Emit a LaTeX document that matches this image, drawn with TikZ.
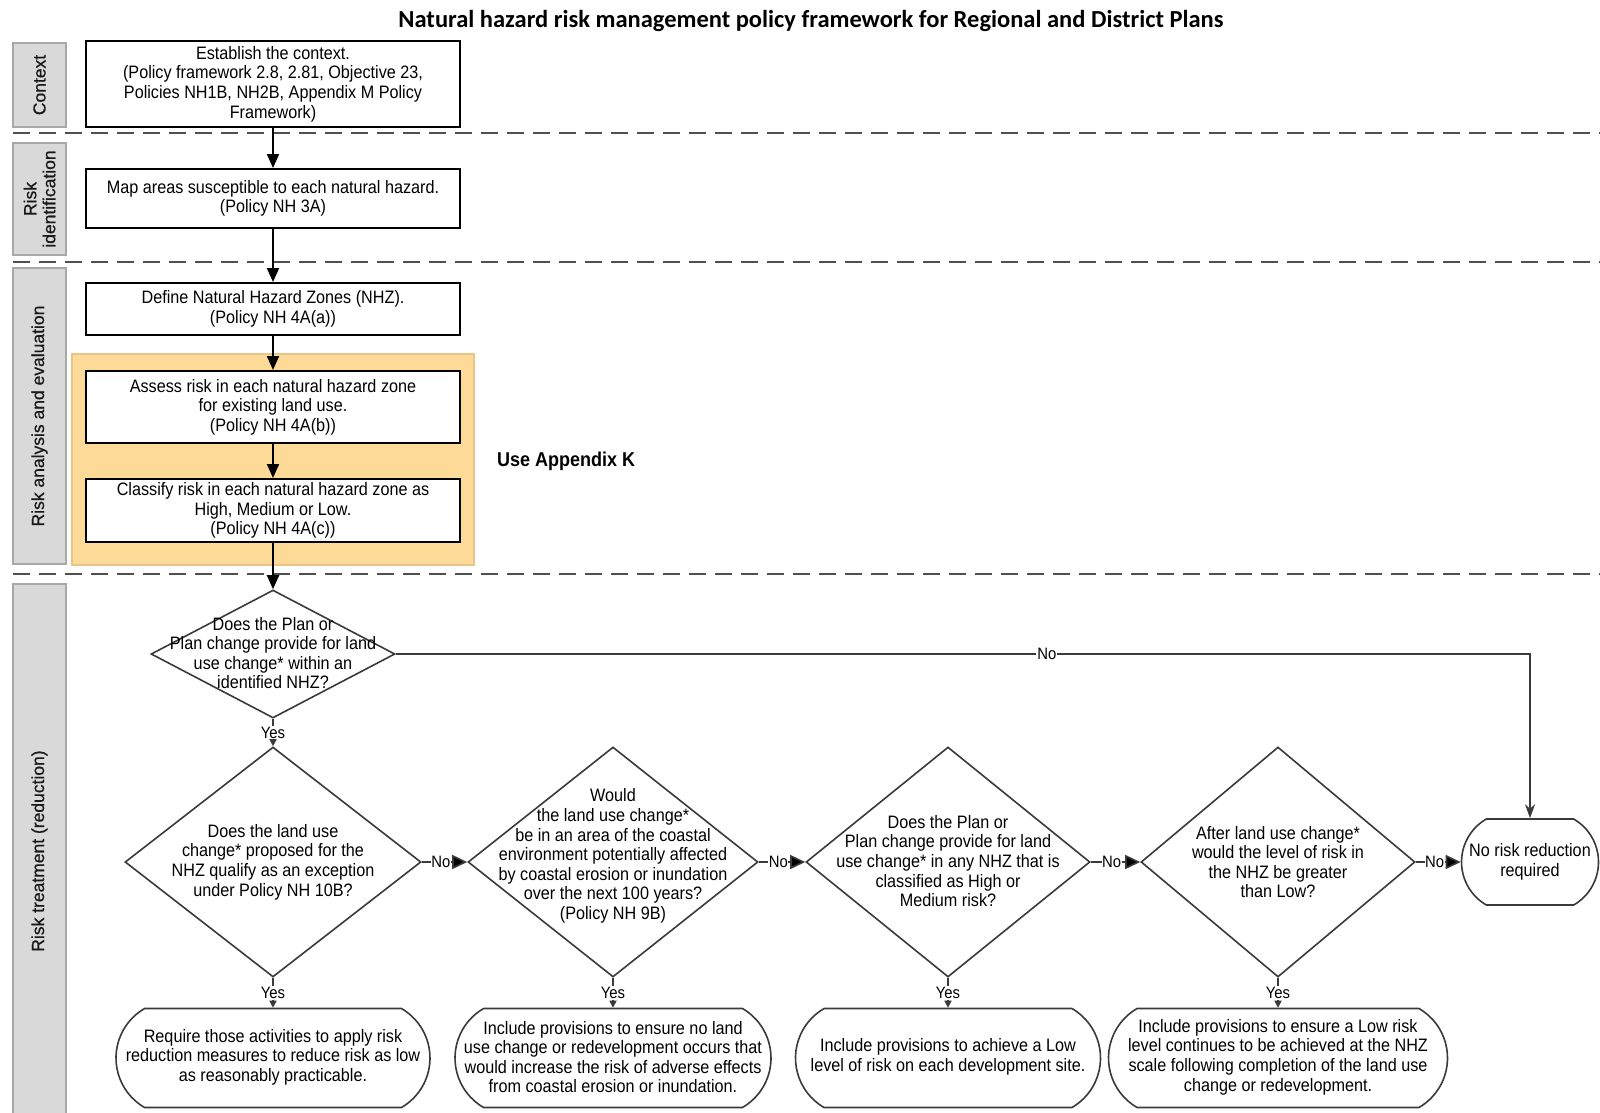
\documentclass[tikz,border=0pt]{standalone}
\usepackage{fontspec}
\setmainfont{Liberation Sans}[FakeStretch=0.9]
\newfontfamily\titlefont{Carlito}
\newfontfamily\lanefont{Liberation Sans}[FakeBold=0.6]
\newfontfamily\boldnarrow{Liberation Sans Bold}[FakeStretch=0.9]
\usetikzlibrary{shapes.geometric,shapes.misc,arrows.meta}
\definecolor{lanefill}{HTML}{D9D9D9}
\definecolor{lanedraw}{HTML}{A8A8A8}
\definecolor{orangefill}{HTML}{FDDA98}
\definecolor{orangedraw}{HTML}{E8C488}
\definecolor{dashgray}{HTML}{505050}
\definecolor{linegray}{HTML}{3A3A3A}
\newcommand{\bodyfs}{\fontsize{18}{19.6}\selectfont}
\newcommand{\smallfs}{\fontsize{16.5}{18}\selectfont}
\begin{document}
\begin{tikzpicture}[x=1pt,y=-1pt,
  lane/.style={draw=lanedraw, line width=2pt, fill=lanefill, rotate=90, minimum height=53, inner sep=0, align=center, font=\lanefont\fontsize{17.5}{19}\selectfont, text=black!90},
  procbox/.style={draw=black, line width=2pt, fill=white, minimum width=374, inner sep=0, align=center, font=\bodyfs},
  dia/.style={diamond, draw=linegray, line width=1.6pt, fill=white, inner sep=0},
  term/.style={rounded rectangle, rounded rectangle arc length=120, draw=linegray, line width=1.6pt, fill=white, inner sep=0, minimum height=99},
  txt/.style={align=center, font=\bodyfs, inner sep=0},
  mainarrow/.style={draw=black, line width=2pt, -{Triangle[length=14pt,width=12pt]}},
  noarrow/.style={draw=linegray, line width=1.6pt, -{Triangle[length=15pt,width=14pt,fill=black]}},
  yesarrow/.style={draw=linegray, line width=1.6pt, -{Triangle[length=7pt,width=7pt]}},
  toparrow/.style={draw=linegray, line width=2pt, -{Stealth[length=14pt,width=10pt]}},
  lbl/.style={fill=white, inner sep=1pt, font=\smallfs},
  sep/.style={draw=dashgray, line width=2.6pt, dash pattern=on 17pt off 9pt}
]
\useasboundingbox[fill=white] (0,0) rectangle (1600,1112);

% title
\node[font=\titlefont\bfseries\fontsize{24.5}{28}\selectfont] (title) at (811,21) {Natural hazard risk management policy framework for Regional and District Plans};

% lanes
\node[lane, minimum width=84] (lane1) at (39.5,85) {Context};
\node[lane, minimum width=112] (lane2) at (39.5,199) {Risk\\identification};
\node[lane, minimum width=296] (lane3) at (39.5,416) {Risk analysis and evaluation};
\node[lane, minimum width=534] (lane4) at (39.5,851) {Risk treatment (reduction)};

% separators
\coordinate (s1a) at (13,133); \coordinate (s1b) at (1600,133);
\coordinate (s2a) at (13,262); \coordinate (s2b) at (1600,262);
\coordinate (s3a) at (13,574); \coordinate (s3b) at (1600,574);
\draw[sep] (s1a) -- (s1b);
\draw[sep] (s2a) -- (s2b);
\draw[sep] (s3a) -- (s3b);

% orange region
\node[draw=orangedraw, line width=1.2pt, fill=orangefill, minimum width=402, minimum height=211, inner sep=0] (appk) at (273,459.5) {};
\node[font=\boldnarrow\fontsize{20}{22}\selectfont, anchor=west, inner sep=0] (appklbl) at (497,461) {Use Appendix K};

% process boxes
\node[procbox, minimum height=86] (ctx) at (273,84) {Establish the context.\\(Policy framework 2.8, 2.81, Objective 23,\\Policies NH1B, NH2B, Appendix M Policy\\Framework)};
\node[procbox, minimum height=59] (map) at (273,198.5) {Map areas susceptible to each natural hazard.\\(Policy NH 3A)};
\node[procbox, minimum height=52] (def) at (273,309) {Define Natural Hazard Zones (NHZ).\\(Policy NH 4A(a))};
\node[procbox, minimum height=72] (ass) at (273,407) {Assess risk in each natural hazard zone\\for existing land use.\\(Policy NH 4A(b))};
\node[procbox, minimum height=63] (cls) at (273,510.5) {Classify risk in each natural hazard zone as\\High, Medium or Low.\\(Policy NH 4A(c))};

% diamonds
\node[dia, minimum width=244, minimum height=128] (d1) at (273,654) {};
\node[txt] (d1t) at (273,653) {Does the Plan or\\Plan change provide for land\\use change* within an\\identified NHZ?};
\node[dia, minimum width=296, minimum height=230] (d2) at (273,862) {};
\node[txt] (d2t) at (273,862) {Does the land use\\change* proposed for the\\NHZ qualify as an exception\\under Policy NH 10B?};
\node[dia, minimum width=290, minimum height=230] (d3) at (613,862) {};
\node[txt] (d3t) at (613,856) {Would\\the land use change*\\be in an area of the coastal\\environment potentially affected\\by coastal erosion or inundation\\over the next 100 years?\\(Policy NH 9B)};
\node[dia, minimum width=284, minimum height=230] (d4) at (948,862) {};
\node[txt] (d4t) at (948,861) {Does the Plan or\\Plan change provide for land\\use change* in any NHZ that is\\classified as High or\\Medium risk?};
\node[dia, minimum width=274, minimum height=230] (d5) at (1278,862) {};
\node[txt] (d5t) at (1278,862) {After land use change*\\would the level of risk in\\the NHZ be greater\\than Low?};

% terminals
\node[term, minimum width=137, minimum height=86] (nrr) at (1530,862) {};
\node[txt] (nrrt) at (1530,862) {No risk reduction\\required};
\node[term, minimum width=314] (t1) at (273,1058) {};
\node[txt] (t1t) at (273,1057) {Require those activities to apply risk\\reduction measures to reduce risk as low\\as reasonably practicable.};
\node[term, minimum width=316] (t2) at (613,1058) {};
\node[txt] (t2t) at (613,1057) {Include provisions to ensure no land\\use change or redevelopment occurs that\\would increase the risk of adverse effects\\from coastal erosion or inundation.};
\node[term, minimum width=305] (t3) at (948,1058) {};
\node[txt] (t3t) at (948,1057) {Include provisions to achieve a Low\\level of risk on each development site.};
\node[term, minimum width=339] (t4) at (1278,1058) {};
\node[txt] (t4t) at (1278,1057) {Include provisions to ensure a Low risk\\level continues to be achieved at the NHZ\\scale following completion of the land use\\change or redevelopment.};

% connectors
\draw[mainarrow] (ctx.south) -- (map.north);
\draw[mainarrow] (map.south) -- (def.north);
\draw[mainarrow] (def.south) -- (ass.north);
\draw[mainarrow] (ass.south) -- (cls.north);
\draw[mainarrow] (cls.south) -- (d1.north);

\draw[yesarrow] (d1.south) -- node[lbl] (y1) {Yes} (d2.north);
\draw[yesarrow] (d2.south) -- node[lbl] (y2) {Yes} (t1.north);
\draw[yesarrow] (d3.south) -- node[lbl] (y3) {Yes} (t2.north);
\draw[yesarrow] (d4.south) -- node[lbl] (y4) {Yes} (t3.north);
\draw[yesarrow] (d5.south) -- node[lbl] (y5) {Yes} (t4.north);

\draw[noarrow] (d2.east) -- node[lbl, inner sep=0.5pt, pos=0.42] (n2) {No} (d3.west);
\draw[noarrow] (d3.east) -- node[lbl, inner sep=0.5pt, pos=0.42] (n3) {No} (d4.west);
\draw[noarrow] (d4.east) -- node[lbl, inner sep=0.5pt, pos=0.42] (n4) {No} (d5.west);
\draw[noarrow] (d5.east) -- node[lbl, inner sep=0.5pt, pos=0.42] (n5) {No} (nrr.west);
\draw[toparrow] (d1.east) -| node[lbl, pos=0.287] (n1) {No} (nrr.north);
\end{tikzpicture}
\end{document}
